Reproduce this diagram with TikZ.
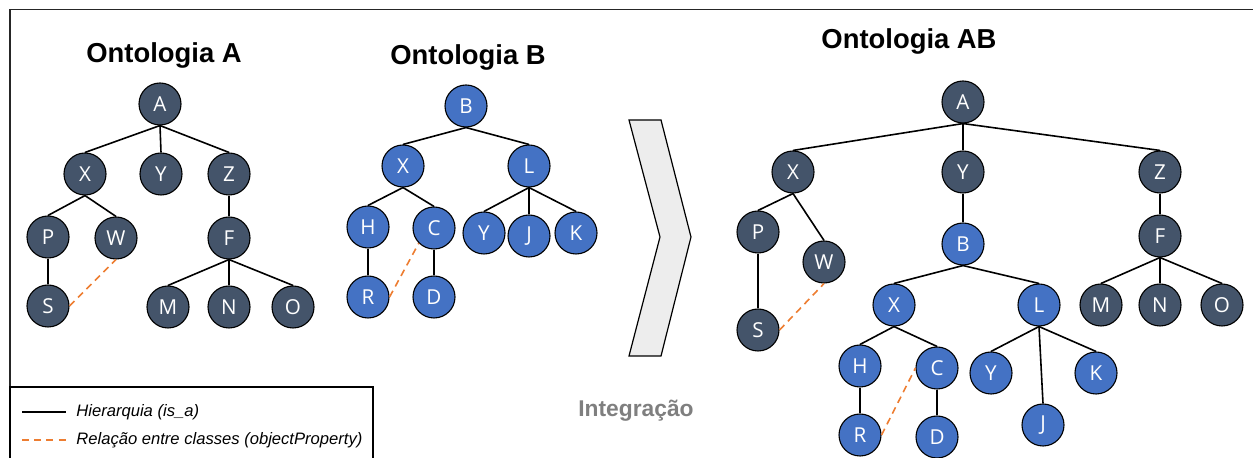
\documentclass[tikz,border=0pt]{standalone}
\usepackage{fontspec}
\setmainfont{Liberation Sans}
\newfontfamily\letterfont{Open Sans}
\definecolor{ontdark}{HTML}{44546A}
\definecolor{ontblue}{HTML}{4472C4}
\definecolor{relorange}{HTML}{ED7D31}
\definecolor{chevfill}{HTML}{EDEDED}
\definecolor{intgray}{HTML}{7F7F7F}

\begin{document}
\begin{tikzpicture}[x=0.5pt,y=-0.5pt,
    darknode/.style={circle,draw=black,line width=0.55pt,fill=ontdark,text=white,
        minimum size=21pt,inner sep=0pt,font=\letterfont\fontsize{10.3}{11}\selectfont},
    bluenode/.style={darknode,fill=ontblue},
    isa/.style={line width=0.8pt},
    rel/.style={line width=0.8pt,draw=relorange,dash pattern=on 3.5pt off 2.5pt},
    title/.style={font=\bfseries\fontsize{13.7}{16}\selectfont},
    legendtext/.style={anchor=west,inner sep=0pt,font=\itshape\fontsize{8.3}{10}\selectfont}]
    \useasboundingbox (0,0) rectangle (1253,458);
    %Frame
        \draw[line width=0.8pt,black!85] (10,458) -- (10,9.5) -- (1253,9.5);
    %Titles
        \node[title] (titleA) at (164,55) {Ontologia A};
        \node[title] (titleB) at (468,57) {Ontologia B};
        \node[title] (titleAB) at (909,41) {Ontologia AB};
    %Ontologia A
        \node[darknode] (aA) at (160,104) {A};
        \node[darknode] (aX) at (85,174) {X};
        \node[darknode] (aY) at (161,174) {Y};
        \node[darknode] (aZ) at (229,174) {Z};
        \node[darknode] (aP) at (48,237) {P};
        \node[darknode] (aW) at (116,238) {W};
        \node[darknode] (aF) at (229,238) {F};
        \node[darknode] (aS) at (48,306) {S};
        \node[darknode] (aM) at (168,307) {M};
        \node[darknode] (aN) at (229,307) {N};
        \node[darknode] (aO) at (293,307) {O};
        \foreach \p/\c in {aA/aX,aA/aY,aA/aZ,aX/aP,aX/aW,aP/aS,aZ/aF,aF/aM,aF/aN,aF/aO}
        {
            \draw[isa] (\p.south) -- (\c.north);
        }
        \draw[rel] (aS.east) -- (aW.south);
    %Ontologia B
        \node[bluenode] (bB) at (466,106) {B};
        \node[bluenode] (bX) at (403,166) {X};
        \node[bluenode] (bL) at (529,166) {L};
        \node[bluenode] (bH) at (368,227) {H};
        \node[bluenode] (bC) at (434,228) {C};
        \node[bluenode] (bY) at (484,233) {Y};
        \node[bluenode] (bJ) at (529,236) {J};
        \node[bluenode] (bK) at (576,233) {K};
        \node[bluenode] (bR) at (368,297) {R};
        \node[bluenode] (bD) at (434,297) {D};
        \foreach \p/\c in {bB/bX,bB/bL,bX/bH,bX/bC,bH/bR,bC/bD,bL/bY,bL/bJ,bL/bK}
        {
            \draw[isa] (\p.south) -- (\c.north);
        }
        \draw[rel] (bR.east) -- (bC.225);
    %Integration chevron
        \draw[fill=chevfill,line width=0.6pt] (629,120) -- (661,120) -- (691,237)
            -- (661,356) -- (629,356) -- (660,237) -- cycle;
        \node[font=\bfseries\fontsize{11.4}{13}\selectfont,text=intgray] (integ) at (636,411) {Integração};
    %Ontologia AB
        \node[darknode] (abA) at (963,102) {A};
        \node[darknode] (abX) at (793,172) {X};
        \node[darknode] (abY) at (963,172) {Y};
        \node[darknode] (abZ) at (1160,172) {Z};
        \node[darknode] (abP) at (758,232) {P};
        \node[darknode] (abW) at (824,262) {W};
        \node[darknode] (abS) at (758,330) {S};
        \node[darknode] (abF) at (1160,236) {F};
        \node[darknode] (abM) at (1101,305) {M};
        \node[darknode] (abN) at (1160,305) {N};
        \node[darknode] (abO) at (1222,305) {O};
        \node[bluenode] (abB) at (963,244) {B};
        \node[bluenode] (abXb) at (894,305) {X};
        \node[bluenode] (abL) at (1039,305) {L};
        \node[bluenode] (abH) at (860,366) {H};
        \node[bluenode] (abC) at (937,368) {C};
        \node[bluenode] (abYb) at (991,373) {Y};
        \node[bluenode] (abK) at (1096,373) {K};
        \node[bluenode] (abJ) at (1043,425) {J};
        \node[bluenode] (abR) at (860,435) {R};
        \node[bluenode] (abD) at (937,437) {D};
        \foreach \p/\c in {abA/abX,abA/abY,abA/abZ,abX/abP,abX/abW,abP/abS,abY/abB,abZ/abF,
            abF/abM,abF/abN,abF/abO,abB/abXb,abB/abL,abXb/abH,abXb/abC,abH/abR,abC/abD,
            abL/abYb,abL/abJ,abL/abK}
        {
            \draw[isa] (\p.south) -- (\c.north);
        }
        \draw[rel] (abS.east) -- (abW.south);
        \draw[rel] (abR.east) -- (abC.west);
    %Legend
        \draw[line width=0.6pt,fill=white] (10,458) -- (10,387) -- (373,387) -- (373,458);
        \coordinate (isaL) at (22,412);
        \coordinate (isaR) at (66,412);
        \coordinate (relL) at (22,440);
        \coordinate (relR) at (68,440);
        \draw[isa] (isaL) -- (isaR);
        \draw[rel,dash pattern=on 3.5pt off 2.6pt] (relL) -- (relR);
        \node[legendtext] (isatext) at (76,412) {Hierarquia (is\_a)};
        \node[legendtext] (reltext) at (76,440) {Relação entre classes (objectProperty)};
\end{tikzpicture}
\end{document}
